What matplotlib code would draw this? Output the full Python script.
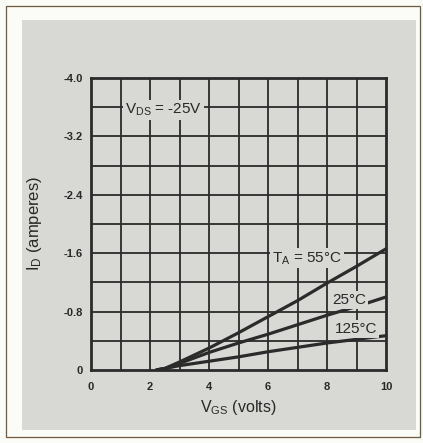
import matplotlib.pyplot as plt
from matplotlib.patches import Rectangle

plt.rcParams['font.family'] = ['Liberation Sans', 'DejaVu Sans']
plt.rcParams['mathtext.fontset'] = 'custom'
plt.rcParams['mathtext.rm'] = 'Liberation Sans'

# gate voltage (V) and drain current (A) for each ambient temperature
vgs = [2.2, 2.5, 3, 4, 5, 6, 7, 8, 9, 10]
id_55 = [0, -0.02, -0.11, -0.30, -0.51, -0.73, -0.95, -1.19, -1.42, -1.66]
id_25 = [0, -0.02, -0.09, -0.24, -0.37, -0.49, -0.62, -0.75, -0.87, -1.00]
id_125 = [0, -0.02, -0.06, -0.12, -0.18, -0.25, -0.31, -0.37, -0.42, -0.47]

xticks = [0, 2, 4, 6, 8, 10]
yticks = [0, -0.8, -1.6, -2.4, -3.2, -4.0]
ytick_labels = ['0', '-0.8', '-1.6', '-2.4', '-3.2', '-4.0']

ink = '#2b2b2b'
txt = '#282828'
paper = '#d8d8d5'

fig = plt.figure(figsize=(4.23, 4.43), dpi=100)
fig.patch.set_facecolor('#fbfbf8')
fig.patches.append(Rectangle((6 / 423, 1 - 437 / 443), 414 / 423, 431 / 443,
                             transform=fig.transFigure, fill=False,
                             edgecolor='#6e5a3c', lw=0.9, zorder=-2))
fig.patches.append(Rectangle((22 / 423, 1 - 430 / 443), 394 / 423, 410 / 443,
                             transform=fig.transFigure, facecolor=paper,
                             edgecolor='none', zorder=-1))

ax = fig.add_axes([91 / 423, 1 - 370 / 443, 295 / 423, 292 / 443])
ax.set_facecolor(paper)
ax.set_xlim(0, 10)
ax.set_ylim(0, -4.0)

# grid every 1 V and 0.4 A
for v in range(1, 10):
    ax.axvline(v, color=ink, lw=1.3, zorder=1)
for k in range(1, 10):
    ax.axhline(-0.4 * k, color=ink, lw=1.3, zorder=1)

for y in (id_55, id_25, id_125):
    ax.plot(vgs, y, color=ink, lw=2.3, solid_capstyle='butt', zorder=3)

for s in ax.spines.values():
    s.set_linewidth(2.0)
    s.set_color(ink)

ax.set_xticks(xticks)
ax.set_yticks(yticks)
ax.set_yticklabels(ytick_labels)
ax.tick_params(length=0, labelsize=8, labelcolor=txt, pad=9)
ax.tick_params(axis='y', pad=6)
for lab in ax.get_xticklabels() + ax.get_yticklabels():
    lab.set_fontweight('bold')

ax.set_xlabel(r'$\mathregular{V_{GS}}$ (volts)', fontsize=11.5, color=txt, labelpad=4)
ax.set_ylabel(r'$\mathregular{I_D}$ (amperes)', fontsize=12, color=txt, labelpad=14)

box = dict(facecolor=paper, edgecolor='none', pad=1.2)
ax.text(1.15, -3.56, r'$\mathregular{V_{DS}}$ = -25V', fontsize=11, color=txt,
        va='center', ha='left', bbox=box, zorder=4)
ax.text(6.14, -1.53, r'$\mathregular{T_A}$ = 55°C', fontsize=11, color=txt,
        va='center', ha='left', bbox=box, zorder=4)
ax.text(8.17, -0.96, '25°C', fontsize=11, color=txt,
        va='center', ha='left', bbox=box, zorder=4)
ax.text(8.27, -0.56, '125°C', fontsize=11, color=txt,
        va='center', ha='left', bbox=box, zorder=4)

fig.savefig('out.png', dpi=100, facecolor=fig.get_facecolor())
